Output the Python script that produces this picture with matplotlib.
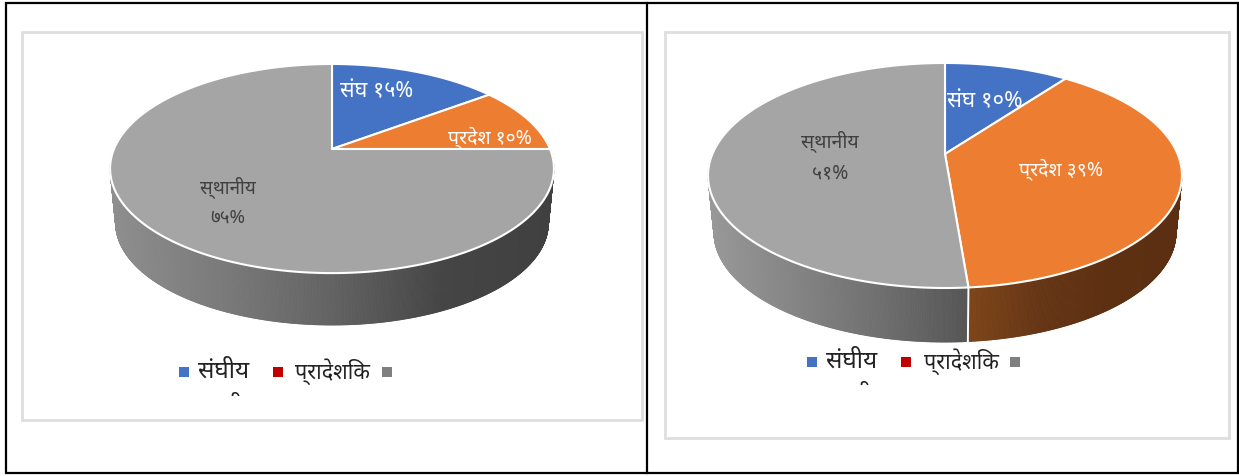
import numpy as np
import matplotlib
matplotlib.use("Agg")
import matplotlib.pyplot as plt
from matplotlib.collections import PolyCollection
from matplotlib.colors import LinearSegmentedColormap
from matplotlib.patches import Rectangle, Polygon

plt.rcParams['font.family'] = ['Noto Sans', 'DejaVu Sans']

legend_labels = ['संघीय', 'प्रादेशिक', 'स्थानीय']
left_values = [14.8, 10.2, 75]
right_values = [10.2, 38.5, 51.3]
left_labels = ['संघ १५%', 'प्रदेश १०%', 'स्थानीय\n७५%']
right_labels = ['संघ १०%', 'प्रदेश ३९%', 'स्थानीय\n५१%']

top_colors = ['#4472C4', '#ED7D31', '#A5A5A5']
legend_colors = ['#4472C4', '#C00000', '#7F7F7F']
side_maps = {
    'left': [None, None, ['#8E8E8E', '#7A7A7A', '#626262', '#454545', '#404040']],
    'right': [None, ['#7D4418', '#653515', '#5E3012', '#5C2F12'], ['#989898', '#848484', '#6E6E6E', '#555555']],
}

fig = plt.figure(figsize=(12.39, 4.76), dpi=100)
ax = fig.add_axes([0, 0, 1, 1])
ax.set_xlim(0, 1239)
ax.set_ylim(476, 0)
ax.axis('off')


def project(theta, g):
    u, v = np.sin(theta), np.cos(theta)
    w = 1 + g['k'] * v
    return g['cx'] + g['a'] * u / w, g['cy'] - g['b'] * v / w


def draw_pie(values, labels, side, g, label_pos, label_sizes):
    fractions = np.cumsum([0] + list(values)) / np.sum(values)
    base = dict(g, a=g['a'] * g['s'], b=g['b'] * g['s'], cy=g['cy'] + g['d'])
    # side wall
    for i, stops in enumerate(side):
        if stops is None:
            continue
        t = np.linspace(fractions[i], fractions[i + 1], int(1400 * values[i] / 100) + 2) * 2 * np.pi
        tx, ty = project(t, g)
        bx, by = project(t, base)
        quads, cvals = [], []
        for j in range(len(t) - 1):
            if np.cos(t[j]) > 0.30:
                continue
            quads.append([(tx[j], ty[j]), (tx[j + 1], ty[j + 1]), (bx[j + 1], by[j + 1]), (bx[j], by[j])])
            cvals.append((tx[j] + tx[j + 1]) / 2)
        cvals = np.array(cvals)
        cmap = LinearSegmentedColormap.from_list('s', stops)
        norm = (cvals - cvals.min()) / (cvals.max() - cvals.min())
        colors = cmap(norm)
        ax.add_collection(PolyCollection(quads, facecolors=colors, edgecolors=colors, linewidths=0.6, zorder=2))
    # seams on the visible wall
    for f in fractions[:-1]:
        th = f * 2 * np.pi
        if np.cos(th) < -0.3:
            x0, y0 = project(th, g)
            x1, y1 = project(th, base)
            ax.plot([x0, x1], [y0, y1], color='white', lw=1.4, zorder=3)
    # top face
    for i in range(len(values)):
        t = np.linspace(fractions[i], fractions[i + 1], 300) * 2 * np.pi
        x, y = project(t, g)
        pts = np.column_stack([np.r_[g['cx'], x], np.r_[g['cy'], y]])
        ax.add_patch(Polygon(pts, closed=True, facecolor=top_colors[i], edgecolor='white', lw=1.5, zorder=4, joinstyle='round'))
    # labels
    for i, (txt, (px, py)) in enumerate(zip(labels, label_pos)):
        color = '#404040' if i == 2 else 'white'
        ax.text(px, py, txt, color=color, fontsize=label_sizes[i], ha='center', va='center', zorder=6, linespacing=1.75)


# outer table frame
ax.add_patch(Rectangle((6, 3), 1232, 470, fill=False, ec='black', lw=1.6, zorder=1))
ax.plot([647, 647], [3, 473], color='black', lw=1.6, zorder=1)
# chart frames
ax.add_patch(Rectangle((22, 32), 620, 388, fill=False, ec='#DEDEDE', lw=2, zorder=1))
ax.add_patch(Rectangle((665, 32), 564, 406, fill=False, ec='#DEDEDE', lw=2, zorder=1))

geo_l = dict(cx=332, cy=149, a=218, b=100.9, k=0.187, s=0.975, d=55)
geo_r = dict(cx=945, cy=154, a=232.6, b=108.4, k=0.191, s=0.975, d=57.4)
draw_pie(left_values, left_labels, side_maps['left'], geo_l, [(377, 92), (490, 138), (228, 201)], [15.5, 14, 13.5])
draw_pie(right_values, right_labels, side_maps['right'], geo_r, [(985, 102), (1061, 170), (830, 157)], [16, 14, 14])


def legend(squares, texts, y, clip_bottom, leftover_x):
    for x, c in zip(squares, legend_colors):
        ax.add_patch(Rectangle((x, y), 10, 10, fc=c, ec='none', zorder=5))
    for tx, t, size in zip(texts, legend_labels[:2], [17.5, 15.5]):
        ax.text(tx, y + 5, t, fontsize=size, color='#222222', ha='left', va='center', zorder=5)
    clip = Rectangle((leftover_x - 50, clip_bottom - 4), 110, 4, transform=ax.transData)
    o = ax.text(leftover_x, clip_bottom + 9, legend_labels[2], fontsize=16, color='#222222', ha='center', va='center', zorder=5)
    o.set_clip_path(clip)
    o.set_clip_on(True)


legend([179, 273, 382], [198, 295], 367, 396, 222)
legend([807, 901, 1010], [826, 924], 357, 385, 851)

fig.savefig('out.png', dpi=100)
